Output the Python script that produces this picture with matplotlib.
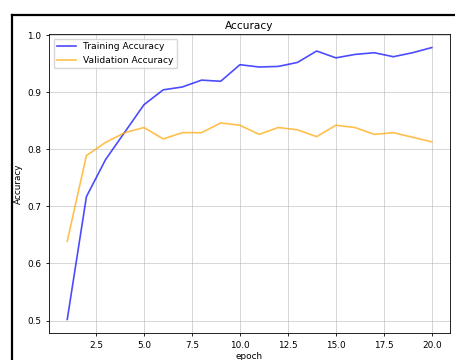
import numpy as np
import matplotlib.pyplot as plt
from matplotlib.lines import Line2D

# accuracy per epoch
epochs = np.arange(1, 21)
train_acc = [0.502, 0.717, 0.782, 0.830, 0.878, 0.904, 0.909, 0.921, 0.919, 0.948,
             0.944, 0.945, 0.952, 0.972, 0.960, 0.966, 0.969, 0.962, 0.969, 0.978]
val_acc = [0.639, 0.789, 0.812, 0.829, 0.838, 0.818, 0.829, 0.829, 0.846, 0.842,
           0.826, 0.838, 0.834, 0.822, 0.842, 0.838, 0.826, 0.829, 0.821, 0.813]

plt.rcParams['font.size'] = 6.4
plt.rcParams['axes.linewidth'] = 0.6
plt.rcParams['xtick.major.size'] = 2.2
plt.rcParams['ytick.major.size'] = 2.2
plt.rcParams['xtick.major.width'] = 0.6
plt.rcParams['ytick.major.width'] = 0.6

fig = plt.figure(figsize=(4.56, 3.6), dpi=100)
ax = fig.add_axes([0.1075, 0.075, 0.8793, 0.8306])

ax.plot(epochs, train_acc, color='blue', alpha=0.7, linewidth=1.2, label='Training Accuracy')
ax.plot(epochs, val_acc, color='orange', alpha=0.7, linewidth=1.2, label='Validation Accuracy')
ax.set_title('Accuracy', fontsize=7.6, pad=3.5)
ax.set_xlabel('epoch', labelpad=1.5)
ax.set_ylabel('Accuracy', labelpad=3)
ax.grid(True, linewidth=0.6, alpha=0.6)
ax.legend(loc='upper left', fontsize=6.6, handlelength=2, framealpha=0.8)

# black frame around the figure
fig.add_artist(Line2D([12 / 456, 1], [1 - 15 / 360] * 2, color='black', linewidth=1.6))
fig.add_artist(Line2D([12 / 456] * 2, [0, 1 - 15 / 360], color='black', linewidth=1.6))

fig.savefig('out.png', dpi=100)
